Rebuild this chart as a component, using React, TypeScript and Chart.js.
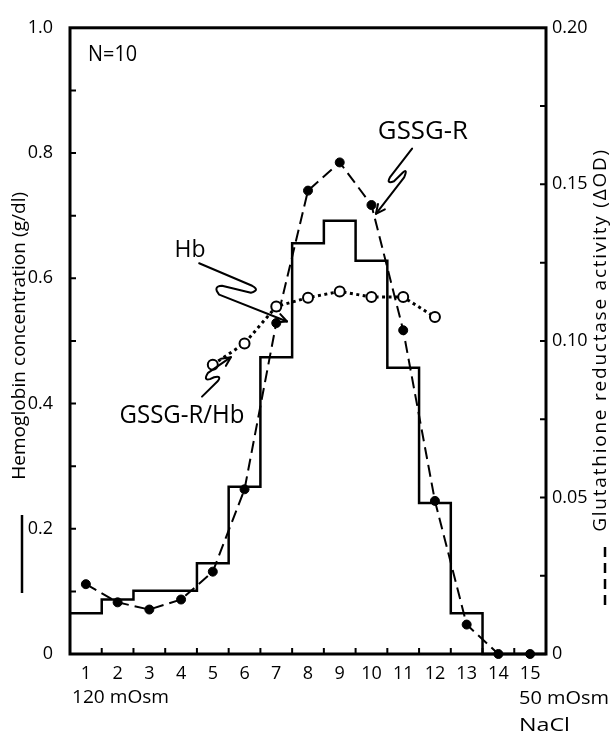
import React, { useEffect, useRef } from "react";
import { Chart, registerables } from "chart.js";

Chart.register(...registerables);

// ---------- data ----------
const fractions = [1, 2, 3, 4, 5, 6, 7, 8, 9, 10, 11, 12, 13, 14, 15];
// Hemoglobin concentration (g/dl), histogram, left axis
const hbConcentration = [0.065, 0.087, 0.101, 0.101, 0.145, 0.267, 0.474, 0.656, 0.692, 0.628, 0.457, 0.241, 0.065, 0, 0];
// Glutathione reductase activity (ΔOD), right axis
const gssgrActivity = [0.0223, 0.0165, 0.0142, 0.0174, 0.0263, 0.0526, 0.1057, 0.148, 0.157, 0.1434, 0.1034, 0.0489, 0.0094, 0, 0];
// GSSG-R/Hb ratio (drawn on left-axis scale)
const ratioFractions = [5, 6, 7, 8, 9, 10, 11, 12];
const gssgrPerHb = [0.462, 0.496, 0.555, 0.569, 0.579, 0.57, 0.57, 0.538];

const leftTicks = [0, 0.2, 0.4, 0.6, 0.8, 1.0];
const leftTickLabels = ["0", "0.2", "0.4", "0.6", "0.8", "1.0"];
const rightTicks = [0, 0.05, 0.1, 0.15, 0.2];
const rightTickLabels = ["0", "0.05", "0.10", "0.15", "0.20"];
const leftMarks = [0.1, 0.2, 0.3, 0.4, 0.5, 0.6, 0.7, 0.8, 0.9];
const rightMarks = [0.025, 0.05, 0.075, 0.1, 0.125, 0.15, 0.175];
const xMarks = [1.5, 2.5, 3.5, 4.5, 5.5, 6.5, 7.5, 8.5, 9.5, 10.5, 11.5, 12.5, 13.5, 14.5];

// annotation leader paths in data units (x, left-axis y)
type Seg = ["M" | "L", number, number] | ["Q", number, number, number, number];
const gssgrArrow: Seg[] = [
  ["M", 11.28, 0.807], ["L", 10.58, 0.761], ["Q", 10.46, 0.75, 10.71, 0.755],
  ["L", 10.99, 0.769], ["Q", 11.15, 0.776, 11.03, 0.761], ["L", 10.14, 0.703],
];
const hbArrow: Seg[] = [
  ["M", 4.57, 0.624], ["L", 6.24, 0.588], ["Q", 6.5, 0.581, 6.2, 0.577],
  ["L", 5.29, 0.588], ["Q", 4.99, 0.587, 5.2, 0.574], ["L", 7.34, 0.531],
];
const ratioArrow: Seg[] = [
  ["M", 4.66, 0.411], ["L", 5.16, 0.436], ["Q", 5.29, 0.445, 5.04, 0.442],
  ["L", 4.91, 0.439], ["Q", 4.69, 0.436, 4.85, 0.449], ["L", 5.57, 0.474],
];
const labels = [
  { text: "GSSG-R", x: 11.62, y: 0.834, size: 25, width: 90 },
  { text: "Hb", x: 4.28, y: 0.645, size: 23, width: 31 },
  { text: "GSSG-R/Hb", x: 4.03, y: 0.381, size: 25, width: 125 },
];
const leftTitle = "Hemoglobin concentration (g/dl)";
const rightTitle = "Glutathione reductase activity (\u0394OD)";

const FONT = '"Open Sans", "DejaVu Sans", sans-serif';

function fitText(ctx: CanvasRenderingContext2D, text: string, x: number, y: number, size: number, width: number, align: "left" | "center") {
  ctx.save();
  ctx.font = `${size}px ${FONT}`;
  ctx.textBaseline = "middle";
  ctx.textAlign = "left";
  const w = ctx.measureText(text).width;
  const k = width / w;
  const x0 = align === "center" ? x - width / 2 : x;
  ctx.translate(x0, y);
  ctx.scale(k, 1);
  ctx.fillText(text, 0, 0);
  ctx.restore();
}

// draws text centred at (0,0) spread to a given length by extra spacing between glyphs
function spacedText(ctx: CanvasRenderingContext2D, text: string, size: number, length: number) {
  ctx.save();
  ctx.font = `${size}px ${FONT}`;
  ctx.textBaseline = "middle";
  ctx.textAlign = "left";
  const chars = Array.from(text);
  const widths = chars.map((c) => ctx.measureText(c).width);
  const natural = widths.reduce((s, v) => s + v, 0);
  const gap = (length - natural) / (chars.length - 1);
  let x = -length / 2;
  chars.forEach((c, i) => {
    ctx.fillText(c, x, 0);
    x += widths[i] + gap;
  });
  ctx.restore();
}

const overlay = {
  id: "overlay",
  beforeDatasetsDraw(chart: any) {
    const { ctx, chartArea: a, scales } = chart;
    const X = (v: number) => scales.x.getPixelForValue(v);
    const Y = (v: number) => scales.y.getPixelForValue(v);
    const Y2 = (v: number) => scales.y2.getPixelForValue(v);
    ctx.save();
    ctx.strokeStyle = "#000";
    ctx.lineWidth = 3;
    ctx.strokeRect(a.left, a.top, a.right - a.left, a.bottom - a.top);
    ctx.lineWidth = 2;
    ctx.beginPath();
    leftMarks.forEach((v) => { ctx.moveTo(a.left, Y(v)); ctx.lineTo(a.left + 6, Y(v)); });
    rightMarks.forEach((v) => { ctx.moveTo(a.right - 6, Y2(v)); ctx.lineTo(a.right, Y2(v)); });
    xMarks.forEach((v) => { ctx.moveTo(X(v), a.bottom); ctx.lineTo(X(v), a.bottom - 6); });
    ctx.stroke();
    ctx.restore();
  },
  afterDatasetsDraw(chart: any) {
    const { ctx, chartArea: a, scales } = chart;
    const X = (v: number) => scales.x.getPixelForValue(v);
    const Y = (v: number) => scales.y.getPixelForValue(v);
    ctx.save();
    ctx.strokeStyle = "#000";
    ctx.fillStyle = "#000";
    ctx.lineWidth = 2;
    ctx.lineCap = "round";
    ctx.lineJoin = "round";
    const drawPath = (segs: Seg[]) => {
      ctx.beginPath();
      let px = 0, py = 0, lx = 0, ly = 0;
      segs.forEach((s) => {
        if (s[0] === "M") { ctx.moveTo(X(s[1]), Y(s[2])); }
        else if (s[0] === "L") { ctx.lineTo(X(s[1]), Y(s[2])); }
        else { ctx.quadraticCurveTo(X(s[1]), Y(s[2]), X(s[3]), Y(s[4])); }
        lx = px; ly = py;
        if (s[0] === "Q") { px = X(s[3]); py = Y(s[4]); } else { px = X(s[1]); py = Y(s[2]); }
      });
      ctx.stroke();
      const ang = Math.atan2(py - ly, px - lx);
      const L = 10, w = 0.45;
      ctx.beginPath();
      ctx.moveTo(px - L * Math.cos(ang - w), py - L * Math.sin(ang - w));
      ctx.lineTo(px, py);
      ctx.lineTo(px - L * Math.cos(ang + w), py - L * Math.sin(ang + w));
      ctx.stroke();
    };
    drawPath(gssgrArrow);
    drawPath(hbArrow);
    drawPath(ratioArrow);

    labels.forEach((l) => fitText(ctx, l.text, X(l.x), Y(l.y), l.size, l.width, "center"));
    fitText(ctx, "N=10", X(1.07), Y(0.956), 21, 49, "left");

    // outside texts
    fitText(ctx, "120 mOsm", a.left + 2, a.bottom + 44, 19, 97, "left");
    fitText(ctx, "50 mOsm", a.right - 27, a.bottom + 45, 19, 90, "left");
    fitText(ctx, "NaCl", a.right - 27, a.bottom + 72, 19, 51, "left");

    // axis titles (both read bottom-to-top)
    ctx.save();
    ctx.translate(20, a.top + 308);
    ctx.rotate(-Math.PI / 2);
    spacedText(ctx, leftTitle, 19, 288);
    ctx.restore();
    ctx.save();
    ctx.translate(601, a.top + 313);
    ctx.rotate(-Math.PI / 2);
    spacedText(ctx, rightTitle, 19, 382);
    ctx.restore();

    // series markers next to titles
    ctx.lineCap = "butt";
    ctx.lineWidth = 2.5;
    ctx.beginPath();
    ctx.moveTo(22, a.bottom - 139);
    ctx.lineTo(22, a.bottom - 61);
    ctx.stroke();
    ctx.setLineDash([10, 6]);
    ctx.beginPath();
    ctx.moveTo(605, a.bottom - 107);
    ctx.lineTo(605, a.bottom - 44);
    ctx.stroke();
    ctx.restore();
  },
};

export default function App() {
  const ref = useRef<HTMLCanvasElement>(null);
  useEffect(() => {
    document.body.style.margin = "0";
    const hbOutline = fractions.flatMap((f, i) => [
      { x: f - 0.5, y: hbConcentration[i] },
      { x: f + 0.5, y: hbConcentration[i] },
    ]);
    const tickFont = { family: FONT, size: 18 };
    const chart = new Chart(ref.current!, {
      type: "line",
      data: {
        datasets: [
          {
            label: "GSSG-R/Hb",
            data: ratioFractions.map((x, i) => ({ x, y: gssgrPerHb[i] })),
            yAxisID: "y",
            borderColor: "#000",
            borderWidth: 3,
            borderDash: [3, 3.5],
            pointRadius: 5,
            pointBorderWidth: 2,
            pointBackgroundColor: "#fff",
            pointBorderColor: "#000",
            order: 0,
            clip: false,
          },
          {
            label: "GSSG-R",
            data: fractions.map((x, i) => ({ x, y: gssgrActivity[i] })),
            yAxisID: "y2",
            borderColor: "#000",
            borderWidth: 2,
            borderDash: [12, 6],
            pointRadius: 4.5,
            pointBorderWidth: 1,
            pointBackgroundColor: "#000",
            pointBorderColor: "#000",
            order: 1,
            clip: false,
          },
          {
            label: "Hb",
            data: hbOutline,
            yAxisID: "y",
            borderColor: "#000",
            borderWidth: 2.5,
            pointRadius: 0,
            order: 2,
            clip: false,
          },
        ] as any,
      },
      options: {
        animation: false,
        responsive: false,
        devicePixelRatio: 1,
        layout: { padding: { top: 21, left: 0, right: 0, bottom: 0 } },
        plugins: { legend: { display: false }, tooltip: { enabled: false } },
        scales: {
          x: {
            type: "linear",
            min: 0.5,
            max: 15.5,
            afterBuildTicks: (s: any) => { s.ticks = fractions.map((v) => ({ value: v })); },
            afterFit: (s: any) => { s.height = 81; },
            ticks: { color: "#000", font: tickFont, padding: 9, maxRotation: 0, autoSkip: false, callback: (v: any) => String(v) },
            grid: { display: false, drawTicks: false },
            border: { display: false },
          },
          y: {
            position: "left",
            min: 0,
            max: 1,
            afterBuildTicks: (s: any) => { s.ticks = leftTicks.map((v) => ({ value: v })); },
            afterFit: (s: any) => { s.width = 70; },
            ticks: { color: "#000", font: tickFont, padding: 17, callback: (_v: any, i: number) => leftTickLabels[i] },
            grid: { display: false, drawTicks: false },
            border: { display: false },
          },
          y2: {
            position: "right",
            min: 0,
            max: 0.2,
            afterBuildTicks: (s: any) => { s.ticks = rightTicks.map((v) => ({ value: v })); },
            afterFit: (s: any) => { s.width = 69; },
            ticks: { color: "#000", font: tickFont, padding: 6, callback: (_v: any, i: number) => rightTickLabels[i] },
            grid: { display: false, drawTicks: false },
            border: { display: false },
          },
        } as any,
      },
      plugins: [overlay],
    });
    return () => chart.destroy();
  }, []);
  return <canvas ref={ref} width={615} height={735} style={{ display: "block" }} />;
}
